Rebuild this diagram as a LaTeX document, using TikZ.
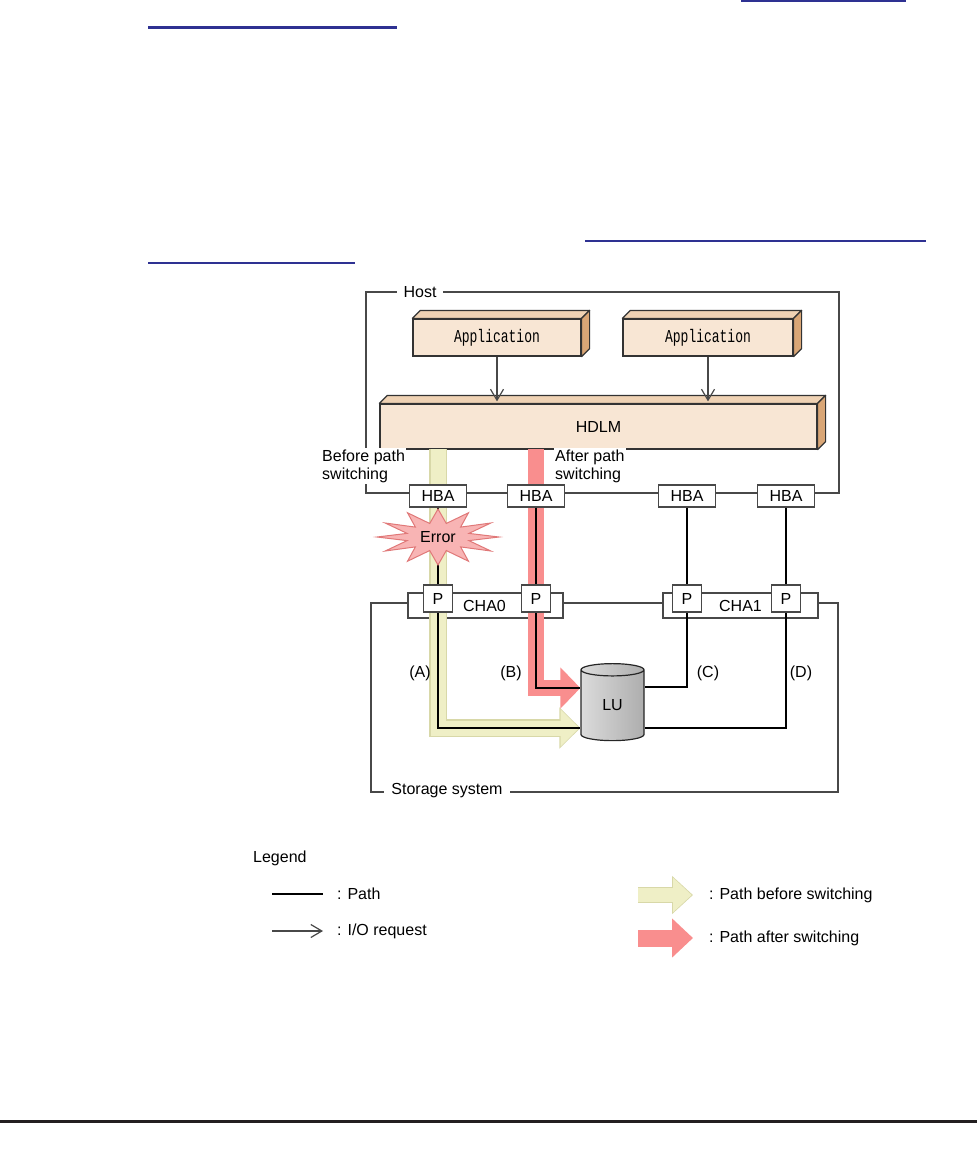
\documentclass[tikz,border=0pt]{standalone}
\usepackage{fontspec}
\usepackage{graphicx}
\setmainfont{Liberation Sans}
\newfontfamily\appfont{Liberation Mono}
\usetikzlibrary{arrows.meta, positioning, shapes.geometric, calc}
\definecolor{SLAB}{HTML}{F8E6D4}
\definecolor{SLABTOP}{HTML}{EFD2B4}
\definecolor{SLABSIDE}{HTML}{D9A676}
\definecolor{FRM}{HTML}{484848}
\definecolor{BEF}{HTML}{EFEFC6}
\definecolor{BEFEDGE}{HTML}{D8D8A8}
\definecolor{AFT}{HTML}{F98E8E}
\definecolor{ERRFILL}{HTML}{F8B4B4}
\definecolor{ERRLINE}{HTML}{E07878}
\definecolor{LINK}{HTML}{2E3192}
\definecolor{RULE}{HTML}{231F20}
\newcommand{\lab}{\fontsize{16}{18}\selectfont}
\newcommand{\apptext}{\scalebox{1}[1.4]{\appfont\fontsize{13}{15}\selectfont Application}}
\tikzset{
  SLAB/.style={% front face of a raised block
      rectangle, draw=black!80, line width=1.2pt,
      fill=SLAB, inner sep=0pt, font=\lab
  },
  SLABTOP/.style={fill=SLABTOP, draw=black!80, line width=1.2pt, line join=round},
  SLABSIDE/.style={fill=SLABSIDE, draw=black!80, line width=1.2pt, line join=round},
  HBA/.style={% adapter on the host edge
      rectangle, draw=FRM, line width=1.2pt, fill=white,
      minimum width=57pt, minimum height=22pt, inner sep=0pt, font=\lab
  },
  PRT/.style={% port on a channel adapter
      HBA, minimum width=29pt, minimum height=27pt
  },
  CHA/.style={% channel adapter body
      HBA, minimum width=155pt, minimum height=25pt
  },
  FRM/.style={draw=FRM, line width=1.2pt},
  TAG/.style={fill=white, inner xsep=7pt, inner ysep=2pt, font=\lab},
  KEY/.style={inner sep=0pt, anchor=west, font=\lab},
  WIRE/.style={draw=black, line width=2.2pt},
  REQ/.style={draw=FRM, line width=1.2pt, -{Straight Barb[length=11pt, width=13pt, line width=1.2pt]}},
  BEFRIM/.style={draw=BEFEDGE, line width=18pt, line join=miter, -{Triangle[length=21pt, width=40pt]}},
  BEF/.style={draw=BEF, line width=15pt, line join=miter, shorten >=1.3pt, -{Triangle[length=18.5pt, width=36pt]}},
  AFT/.style={draw=AFT, line width=16pt, line join=miter, -{Triangle[length=20pt, width=40pt]}},
}
% raised block: name, centre, width, height, text
\newcommand{\slab}[5]{%
  \node[SLAB, minimum width=#3, minimum height=#4] (#1) at (#2) {#5};
  \filldraw[SLABTOP] (#1.north west) -- ++(8,-8) -- ([shift={(8,-8)}]#1.north east) -- (#1.north east) -- cycle;
  \filldraw[SLABSIDE] (#1.north east) -- ++(8,-8) -- ([shift={(8,-8)}]#1.south east) -- (#1.south east) -- cycle;
}

\begin{document}
\begin{tikzpicture}[x=1pt,y=-1pt]
  \useasboundingbox (0,0) rectangle (977,1149);
  % page remnants
  \draw[LINK, line width=2pt] (741,1) -- (906,1);
  \draw[LINK, line width=3pt] (148,27) -- (397,27);
  \draw[LINK, line width=2pt] (585,241) -- (926,241);
  \draw[LINK, line width=2pt] (148,263) -- (355,263);
  \draw[RULE, line width=3pt] (0,1121) -- (977,1121);

  % host
  \draw[FRM] (366,292) rectangle (839,493);
  \node[TAG] (host) at (420,292) {Host};
  \slab{app1}{497,337.5}{168pt}{37pt}{\apptext}
  \slab{app2}{708,337.5}{170pt}{37pt}{\apptext}
  \slab{hdlm}{598.5,426.5}{437pt}{45pt}{HDLM}
  \draw[REQ, shorten >=2pt] (app1.south) -- (app1.south |- hdlm.north);
  \draw[REQ, shorten >=2pt] (app2.south) -- (app2.south |- hdlm.north);

  % storage
  \draw[FRM] (371,603) rectangle (838,792);
  \node[TAG] (storage) at (447,791) {Storage system};
  \node[CHA] (cha0) at (485.5,605.5) {\hspace*{-2pt}CHA0};
  \node[CHA] (cha1) at (740.5,605.5) {CHA1};
  \node[cylinder, shape border rotate=90, aspect=0.6, draw=black!85, line width=1.2pt,
        minimum width=63pt, minimum height=77pt, inner sep=0pt,
        left color=black!14, middle color=white, right color=black!32, font=\lab] (lu) at (612.5,705.5) {LU};

  % switching arrows
  \coordinate (luA) at ([yshift=-22.5pt]lu.180);
  \coordinate (luB) at ([yshift=17.5pt]lu.180);
  \coordinate (luC) at ([yshift=18.5pt]lu.0);
  \coordinate (luD) at ([yshift=-22.5pt]lu.0);
  \draw[BEFRIM] (438,449) |- (luA);
  \draw[BEF] (438,449) |- (luA);
  \draw[AFT] (536,449) |- (luB);

  % adapters and ports
  \foreach \n/\x in {1/438, 2/536, 3/687, 4/786} {
    \node[HBA] (hba\n) at (\x,496) {HBA};
    \node[PRT] (p\n) at (\x,598.5) {};
  }
  \foreach \n in {1,...,4} {
    \draw[WIRE] (hba\n.south) -- (p\n.north);
  }
  \draw[WIRE] (p1.south) |- (luA);
  \draw[WIRE] (p2.south) |- (luB);
  \draw[WIRE] (p3.south) |- (luC);
  \draw[WIRE] (p4.south) |- (luD);
  \foreach \n in {1,...,4} {
    \node[PRT] at (p\n) {P};
  }

  % error
  \filldraw[fill=ERRFILL, draw=ERRLINE, line width=1pt, line join=miter]
    plot[samples at={0,...,23}] ({438+(61-29*mod(\x,2))*cos(\x*15)}, {537+(28-14*mod(\x,2))*sin(\x*15)}) -- cycle;
  \node[font=\lab] (error) at (438,537) {Error};

  \node[TAG, inner xsep=1pt, align=left, anchor=west] (before) at (321,466) {Before path\\switching};
  \node[TAG, inner xsep=1pt, align=left, anchor=west] (after) at (554,466) {After path\\switching};
  \node[font=\lab] (la) at (420,673) {(A)};
  \node[font=\lab] (lb) at (511,673) {(B)};
  \node[font=\lab] (lc) at (708,673) {(C)};
  \node[font=\lab] (ld) at (801,673) {(D)};

  % legend
  \node[KEY] (legend) at (253,858) {Legend};
  \coordinate (k1a) at (272,894);
  \coordinate (k1b) at (323,894);
  \draw[WIRE, line width=2pt] (k1a) -- (k1b);
  \node[KEY, right=14pt of k1b] (k1) {: Path};
  \coordinate (k2a) at (272,931);
  \coordinate (k2b) at (323,931);
  \draw[REQ] (k2a) -- (k2b);
  \node[KEY, right=14pt of k2b] (k2) {: I/O request};
  \coordinate (k3a) at (638,895);
  \coordinate (k3b) at (693,895);
  \draw[BEFRIM, line width=16pt, -{Triangle[length=21pt, width=37pt]}] (k3a) -- (k3b);
  \draw[BEF, line width=13.5pt, -{Triangle[length=18.5pt, width=33pt]}] (k3a) -- (k3b);
  \node[KEY, right=16pt of k3b] (k3) {: Path before switching};
  \coordinate (k4a) at (638,938);
  \coordinate (k4b) at (693,938);
  \draw[AFT, line width=17pt, -{Triangle[length=21pt, width=38pt]}] (k4a) -- (k4b);
  \node[KEY, right=16pt of k4b] (k4) {: Path after switching};
\end{tikzpicture}
\end{document}
